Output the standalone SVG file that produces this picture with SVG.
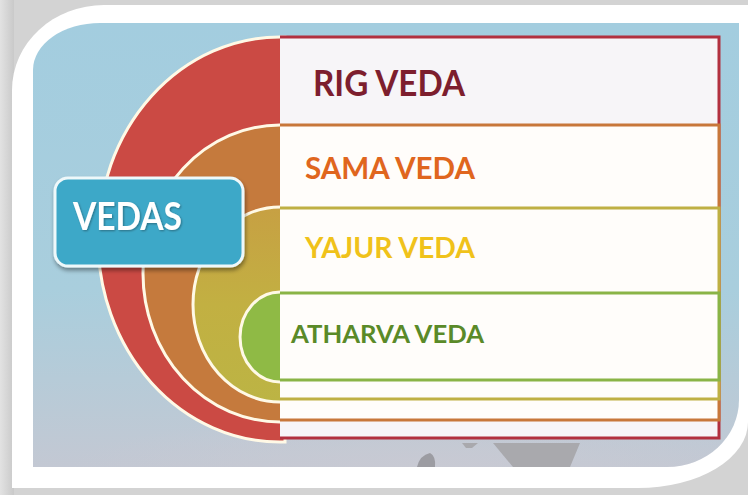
<svg xmlns="http://www.w3.org/2000/svg" width="748" height="495" viewBox="0 0 748 495">
  <defs>
    <linearGradient id="bg" x1="0" y1="0" x2="0" y2="1">
      <stop offset="0" stop-color="#a3cddf"/>
      <stop offset="0.6" stop-color="#a9cedd"/>
      <stop offset="1" stop-color="#c3c8d3"/>
    </linearGradient>
    <radialGradient id="grayish" cx="0.55" cy="1" r="0.5">
      <stop offset="0" stop-color="#c9cad3" stop-opacity="0.9"/>
      <stop offset="1" stop-color="#c9cad3" stop-opacity="0"/>
    </radialGradient>
    <linearGradient id="leftShade" x1="0" y1="0" x2="1" y2="0">
      <stop offset="0" stop-color="#e2e2e2"/>
      <stop offset="1" stop-color="#c9c9c9"/>
    </linearGradient>
    <linearGradient id="yel" x1="0" y1="0" x2="0" y2="1">
      <stop offset="0" stop-color="#c7a043"/>
      <stop offset="0.5" stop-color="#c2b042"/>
      <stop offset="1" stop-color="#bcb444"/>
    </linearGradient>
    <filter id="sh" x="-10%" y="-10%" width="130%" height="140%">
      <feGaussianBlur in="SourceAlpha" stdDeviation="2"/>
      <feOffset dx="1" dy="3"/>
      <feComponentTransfer><feFuncA type="linear" slope="0.4"/></feComponentTransfer>
      <feMerge><feMergeNode/><feMergeNode in="SourceGraphic"/></feMerge>
    </filter>
    <filter id="tsh" x="-5%" y="-10%" width="115%" height="130%">
      <feGaussianBlur in="SourceAlpha" stdDeviation="1"/>
      <feOffset dx="1" dy="1"/>
      <feComponentTransfer><feFuncA type="linear" slope="0.35"/></feComponentTransfer>
      <feMerge><feMergeNode/><feMergeNode in="SourceGraphic"/></feMerge>
    </filter>
  </defs>
  <style>
    .ring { stroke: #fff9e6; stroke-width: 3; }
    .row { fill: #fffdfa; }
    .label { font-family: Lato, "Liberation Sans", sans-serif; font-weight: bold; }
  </style>

  <!-- outer gray + frame -->
  <rect x="0" y="0" width="748" height="495" fill="#d3d3d3"/>
  <rect x="0" y="0" width="14" height="495" fill="url(#leftShade)"/>
  <path d="M12,90 A92,85 0 0 1 104,5 L748,5 L748,422 A110,66 0 0 1 638,488 L12,488 Z" fill="#ffffff"/>

  <!-- picture background -->
  <path d="M33,70 A67,47 0 0 1 100,23 L739,23 L739,400 A72,67 0 0 1 667,467 L33,467 Z" fill="url(#bg)"/>
  <path d="M33,360 L739,360 L739,400 A72,67 0 0 1 667,467 L33,467 Z" fill="url(#grayish)"/>

  <!-- bottom gray shapes -->
  <path d="M493,443 L580,443 L570,467 L513,467 Z" fill="#a9a9ad"/>
  <path d="M462,443 L478,443 L472,448 L466,448 Z" fill="#a9a9ad"/>
  <path d="M417,467 Q420,455 430,453 Q436,456 435,467 Z" fill="#9c9ca2"/>

  <!-- rings -->
  <g id="rings">
    <path class="ring" d="M285,37 L280,37 A182,202.5 0 0 0 280,442 L285,442 Z" fill="#cb4a44"/>
    <path class="ring" d="M285,125 L280,125 A137,148.5 0 0 0 280,422 L285,422 Z" fill="#c57a3d"/>
    <path class="ring" d="M285,207 L280,207 A87,97.5 0 0 0 280,402 L285,402 Z" fill="url(#yel)"/>
    <path class="ring" d="M285,292 L280,292 A40,45 0 0 0 280,382 L285,382 Z" fill="#8fba45"/>
  </g>

  <!-- table rows (nested) -->
  <g id="rig-veda">
    <rect x="280" y="37" width="439" height="401" fill="#f7f5f8"/>
    <path d="M280,37 L719,37 L719,438 L280,438" fill="none" stroke="#b2303f" stroke-width="3"/>
    <text class="label" x="313" y="96" font-size="37" textLength="152" lengthAdjust="spacingAndGlyphs" fill="#7d1e2e">RIG VEDA</text>
  </g>
  <g id="sama-veda">
    <rect class="row" x="280" y="125" width="439" height="295"/>
    <path d="M280,125 L719,125 L719,420 L280,420" fill="none" stroke="#c8773a" stroke-width="3"/>
    <text class="label" x="305" y="179" font-size="31" textLength="170" lengthAdjust="spacingAndGlyphs" fill="#e0661e">SAMA VEDA</text>
  </g>
  <g id="yajur-veda">
    <rect class="row" x="280" y="208" width="439" height="191"/>
    <path d="M280,208 L719,208 L719,399 L280,399" fill="none" stroke="#bfb043" stroke-width="3"/>
    <text class="label" x="305" y="258" font-size="29" textLength="170" lengthAdjust="spacingAndGlyphs" fill="#f0c21a">YAJUR VEDA</text>
  </g>
  <g id="atharva-veda">
    <rect class="row" x="280" y="293" width="439" height="87"/>
    <path d="M280,293 L719,293 L719,380 L280,380" fill="none" stroke="#8ab446" stroke-width="3"/>
    <text class="label" x="291" y="343" font-size="25" textLength="193" lengthAdjust="spacingAndGlyphs" fill="#5a8a28">ATHARVA VEDA</text>
  </g>

  <!-- VEDAS node -->
  <g id="vedas" filter="url(#sh)">
    <rect x="55" y="178" width="188" height="88" rx="13" ry="13" fill="#3ea8c8" stroke="#eef8fa" stroke-width="3"/>
    <text class="label" x="73" y="230" font-size="38" textLength="109" lengthAdjust="spacingAndGlyphs" fill="#ffffff" filter="url(#tsh)">VEDAS</text>
  </g>

  <g id="connectors"/>
</svg>
